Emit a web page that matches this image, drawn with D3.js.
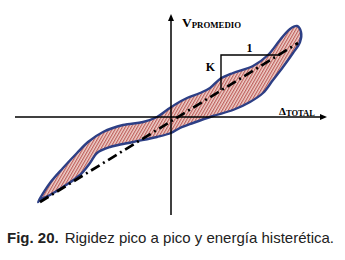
<!DOCTYPE html>
<html>
<head>
<meta charset="utf-8">
<script src="https://cdn.jsdelivr.net/npm/d3@7"></script>
<style>
  body { margin: 0; background: #fff; }
  svg { display: block; }
</style>
</head>
<body>
<div id="chart"></div>
<script>
// hysteresis loop, upper branch (left to right) and lower branch (right to left)
const loopUpper = [
  [-13.3, -8.5], [-12.1, -6.6], [-10.8, -5.1], [-9.4, -3.6], [-8.3, -2.5],
  [-6.8, -1.5], [-4.8, -0.8], [-2.8, -0.5], [-1.4, 0.0], [-0.4, 0.7],
  [0.5, 1.3], [1.6, 1.9], [2.9, 2.4], [3.9, 2.9], [4.9, 3.8], [6.2, 4.4],
  [8.2, 5.1], [9.7, 6.2], [10.9, 7.7], [11.9, 8.8], [12.6, 9.1], [13.0, 8.5],
  [12.9, 7.5]
];
const loopLower = [
  [12.2, 6.4], [11.2, 5.0], [10.2, 3.7], [9.2, 2.4], [7.9, 1.5], [6.2, 0.7],
  [4.2, 0.1], [2.2, -0.6], [0.9, -1.1], [0.0, -1.6], [-1.4, -2.0], [-3.8, -2.5],
  [-6.1, -3.0], [-7.4, -3.6], [-8.1, -4.6], [-9.1, -5.8], [-10.8, -7.0],
  [-12.1, -7.8], [-13.1, -8.3]
];
// peak to peak stiffness line
const peakLine = [[-13.1, -8.5], [12.7, 7.4]];
// slope triangle: K over 1
const slopeLegs = [[5.0, 2.7], [5.0, 6.2], [10.9, 6.2]];

const xDomain = [-15.6, 15.6];
const yDomain = [-9.8, 10.3];

const width = 345, height = 260;

const svg = d3.select('#chart')
  .append('svg')
  .attr('width', width)
  .attr('height', height);

const x = d3.scaleLinear().domain(xDomain).range([15, 327]);
const y = d3.scaleLinear().domain(yDomain).range([215, 14]);

// hatch pattern
const defs = svg.append('defs');
const pat = defs.append('pattern')
  .attr('id', 'hatch')
  .attr('patternUnits', 'userSpaceOnUse')
  .attr('width', 2.6)
  .attr('height', 6)
  .attr('patternTransform', 'rotate(30)');
pat.append('rect').attr('width', 2.6).attr('height', 6).attr('fill', '#efd2cc');
pat.append('line')
  .attr('x1', 0.6).attr('y1', 0).attr('x2', 0.6).attr('y2', 6)
  .attr('stroke', '#bb5855').attr('stroke-width', 1.1);

const line = d3.line().x(d => x(d[0])).y(d => y(d[1]));

// loop
svg.append('path')
  .datum(loopUpper.concat(loopLower))
  .attr('d', line.curve(d3.curveCatmullRomClosed.alpha(0.5)))
  .attr('fill', 'url(#hatch)')
  .attr('stroke', '#2d3f85')
  .attr('stroke-width', 2.4)
  .attr('stroke-linejoin', 'round');

// axes
const ax = svg.append('g').attr('stroke', '#000').attr('stroke-width', 1.5);
ax.append('line')
  .attr('x1', x(xDomain[0])).attr('x2', x(xDomain[1]) - 5)
  .attr('y1', y(0)).attr('y2', y(0));
ax.append('line')
  .attr('x1', x(0)).attr('x2', x(0))
  .attr('y1', y(yDomain[0])).attr('y2', y(yDomain[1]) + 5);

svg.append('path')
  .attr('d', `M${x(xDomain[1])},${y(0)} l-7,-3 l0,6 z`)
  .attr('fill', '#000');
svg.append('path')
  .attr('d', `M${x(0)},${y(yDomain[1])} l-3,7 l6,0 z`)
  .attr('fill', '#000');

// dash-dot peak line
svg.append('path')
  .datum(peakLine)
  .attr('d', line.curve(d3.curveLinear))
  .attr('fill', 'none')
  .attr('stroke', '#000')
  .attr('stroke-width', 2.7)
  .attr('stroke-dasharray', '10,4,2,4');

// slope triangle
svg.append('path')
  .datum(slopeLegs)
  .attr('d', line.curve(d3.curveLinear))
  .attr('fill', 'none')
  .attr('stroke', '#000')
  .attr('stroke-width', 1.4);

const serif = '"Liberation Serif", "DejaVu Serif", serif';

svg.append('text')
  .attr('x', (x(slopeLegs[1][0]) + x(slopeLegs[2][0])) / 2 - 1)
  .attr('y', y(slopeLegs[1][1]) - 3)
  .attr('text-anchor', 'middle')
  .attr('font-family', serif).attr('font-weight', 'bold').attr('font-size', 12)
  .text('1');

svg.append('text')
  .attr('x', x(slopeLegs[0][0]) - 6)
  .attr('y', y(4.6))
  .attr('text-anchor', 'end')
  .attr('font-family', serif).attr('font-weight', 'bold').attr('font-size', 12)
  .text('K');

// axis labels
const vLab = svg.append('text')
  .attr('x', 182).attr('y', 27)
  .attr('font-family', serif).attr('font-weight', 'bold');
vLab.append('tspan').attr('font-size', 13.5).text('V');
vLab.append('tspan').attr('font-size', 8.8).attr('dy', 0.5).text('PROMEDIO');

const dLab = svg.append('text')
  .attr('x', 279).attr('y', 114.5)
  .attr('font-family', serif).attr('font-weight', 'bold');
dLab.append('tspan').attr('font-size', 11).text('Δ');
dLab.append('tspan').attr('font-size', 8.5).attr('dy', 1).text('TOTAL');

// caption
const cap = svg.append('text')
  .attr('x', 7).attr('y', 243)
  .attr('font-family', '"Liberation Sans", Arial, sans-serif')
  .attr('font-size', 15)
  .attr('fill', '#222');
cap.append('tspan').attr('font-weight', 'bold').text('Fig. 20.');
cap.append('tspan').attr('dx', 6).text('Rigidez pico a pico y energía histerética.');
</script>
</body>
</html>
